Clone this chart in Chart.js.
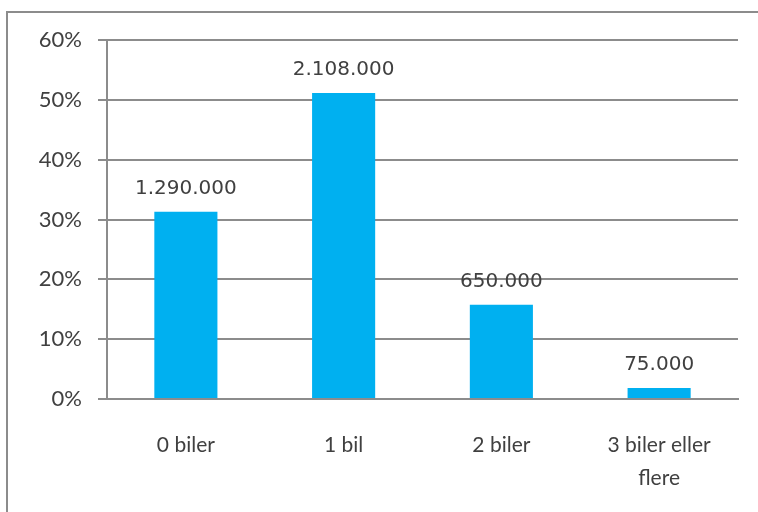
<!DOCTYPE html>
<html>
<head>
<meta charset="utf-8">
<script src="https://cdn.jsdelivr.net/npm/chart.js@4.4.0/dist/chart.umd.min.js"></script>
<style>
  html, body { margin: 0; padding: 0; background: #fff; }
  #wrap { width: 758px; height: 512px; }
</style>
</head>
<body>
<div id="wrap"><canvas id="chart" width="758" height="512"></canvas></div>
<script>
// husstande fordelt på antal biler
const categories = ['0 biler', '1 bil', '2 biler', ['3 biler eller', 'flere']];
const households = [1290000, 2108000, 650000, 75000];
const yTicks = [0, 10, 20, 30, 40, 50, 60];

const total = households.reduce((a, b) => a + b, 0);
const shares = households.map(v => v / total * 100);

const gridColor = '#8c8c8c';
const textColor = '#404040';

// frame round the whole chart (only top and left show)
const framePlugin = {
    id: 'frame',
    beforeDraw(chart) {
        const ctx = chart.ctx;
        ctx.save();
        ctx.strokeStyle = '#8c8c8c';
        ctx.lineWidth = 2;
        ctx.beginPath();
        ctx.moveTo(7, 520);
        ctx.lineTo(7, 12);
        ctx.lineTo(770, 12);
        ctx.stroke();
        ctx.restore();
    }
};

// the household count above each bar
const countLabels = {
    id: 'countLabels',
    afterDatasetsDraw(chart) {
        const ctx = chart.ctx;
        const meta = chart.getDatasetMeta(0);
        ctx.save();
        ctx.font = '20px "DejaVu Sans"';
        ctx.fillStyle = textColor;
        ctx.textAlign = 'center';
        ctx.textBaseline = 'alphabetic';
        meta.data.forEach((bar, i) => {
            ctx.fillText(households[i].toLocaleString('da-DK'), bar.x, bar.y - 18);
        });
        ctx.restore();
    }
};

new Chart(document.getElementById('chart'), {
    type: 'bar',
    data: {
        labels: categories,
        datasets: [{
            data: shares,
            backgroundColor: '#00b0f0',
            borderWidth: 0,
            categoryPercentage: 1,
            barPercentage: 0.4
        }]
    },
    options: {
        responsive: false,
        animation: false,
        layout: { padding: { top: 40, right: 20, left: 0, bottom: 0 } },
        plugins: {
            legend: { display: false },
            tooltip: { enabled: false }
        },
        scales: {
            x: {
                grid: { display: false, drawTicks: false },
                border: { color: gridColor, width: 2 },
                ticks: {
                    color: textColor,
                    font: { family: 'Lato', size: 21, lineHeight: 1.55 },
                    padding: 30,
                    maxRotation: 0
                },
                afterFit(scale) { scale.height = 113; }
            },
            y: {
                min: 0,
                max: 60,
                afterBuildTicks(scale) {
                    scale.ticks = yTicks.map(v => ({ value: v }));
                },
                grid: { color: gridColor, lineWidth: 2, tickLength: 9 },
                border: { color: gridColor, width: 2 },
                ticks: {
                    color: textColor,
                    font: { family: 'Lato', size: 22 },
                    padding: 16,
                    callback: v => v + '%'
                },
                afterFit(scale) { scale.width = 107; }
            }
        }
    },
    plugins: [framePlugin, countLabels]
});
</script>
</body>
</html>
